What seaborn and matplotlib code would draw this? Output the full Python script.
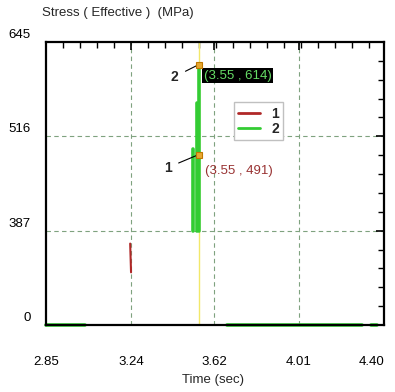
import numpy as np
import pandas as pd
import seaborn as sns
import matplotlib.pyplot as plt
from matplotlib.lines import Line2D
from matplotlib.ticker import FixedLocator, AutoMinorLocator
import matplotlib.transforms as mtransforms

# curve 1 (red) - only a short blip shows up near 3.24 s
t_curve1 = [3.236, 3.240]
s_curve1 = [334, 216]
seg_curve1 = [0, 0]

# curve 2 (green) - flat at zero with a burst of spikes around 3.52-3.55 s
t_curve2 = [2.85, 3.03, 3.522, 3.522, 3.543, 3.543, 3.550, 3.550, 3.68, 4.30, 4.34, 4.37]
s_curve2 = [0, 0, 387, 498, 387, 562, 387, 614, 0, 0, 0, 0]
seg_curve2 = [0, 0, 1, 1, 2, 2, 3, 3, 4, 4, 5, 5]

probe_t = 3.55
probe_vals = [491, 614]      # curve 1, curve 2
probe_names = ['1', '2']

x_ticks = [2.85, 3.24, 3.62, 4.01, 4.40]
y_ticks = [0, 387, 516, 645]

df = pd.concat([
    pd.DataFrame({'t': t_curve1, 's': s_curve1, 'seg': seg_curve1, 'curve': '1'}),
    pd.DataFrame({'t': t_curve2, 's': s_curve2, 'seg': seg_curve2, 'curve': '2'}),
], ignore_index=True)

sns.set_theme(style='white')
plt.rcParams['font.family'] = ['Liberation Sans', 'DejaVu Sans']

red, green = '#b02828', '#33cc33'

fig = plt.figure(figsize=(3.95, 3.92), dpi=100)
ax = fig.add_axes([46/395, 1-325/392, 338/395, 283/392])

# the y axis is piecewise: each labelled tick gets the same height
fwd = lambda v: np.interp(v, y_ticks, [0, 1, 2, 3])
inv = lambda p: np.interp(p, [0, 1, 2, 3], y_ticks)
ax.set_yscale('function', functions=(fwd, inv))

ax.axvline(probe_t, color='#f2e86a', lw=1, zorder=1)
sns.lineplot(data=df[df.curve == '2'], x='t', y='s', units='seg', estimator=None,
             sort=False, color=green, lw=2.6, ax=ax, zorder=2)
for ln in ax.lines[1:]:
    ln.set_clip_on(False)
sns.lineplot(data=df[df.curve == '1'], x='t', y='s', units='seg', estimator=None,
             sort=False, color=red, lw=1.5, ax=ax, zorder=3)

ax.set_xlim(x_ticks[0], x_ticks[-1])
ax.set_ylim(0, 645)

# grid, only inside
for xv in x_ticks[1:-1]:
    ax.axvline(xv, color='#7fa27f', lw=0.8, dashes=(4, 3), zorder=0)
for yv in y_ticks[1:-1]:
    ax.axhline(yv, color='#7fa27f', lw=0.8, dashes=(4, 3), zorder=0)

ax.xaxis.set_major_locator(FixedLocator(x_ticks))
ax.xaxis.set_minor_locator(AutoMinorLocator(5))
ax.set_xticklabels([f'{v:.2f}' for v in x_ticks])
ax.yaxis.set_major_locator(FixedLocator(y_ticks))
ax.yaxis.set_minor_locator(FixedLocator(inv(np.arange(0, 3.01, 0.2))))
ax.set_yticklabels([str(v) for v in y_ticks])
ax.tick_params(which='both', direction='in', top=True, right=True, colors='black',
               labelsize=9.5)
ax.tick_params(which='major', length=6, width=1.2)
ax.tick_params(which='minor', length=4, width=1)
ax.tick_params(axis='x', pad=22)
ax.tick_params(axis='y', pad=11)
ax.get_xticklabels()[-1].set_horizontalalignment('right')
shift = mtransforms.ScaledTranslation(0, 6/72, fig.dpi_scale_trans)
for lab in ax.get_yticklabels():
    lab.set_transform(lab.get_transform() + shift)
for sp in ax.spines.values():
    sp.set_color('black')
    sp.set_linewidth(1.6)
ax.set_xlabel('')
ax.set_ylabel('')

# probe markers with value labels
for val, name in zip(probe_vals, probe_names):
    ax.plot(probe_t, val, 's', ms=5, mfc='#e8a830', mec='#c07800', mew=0.8, zorder=5)
offs = {'1': (-31, -13), '2': (-24, -12)}
for val, name in zip(probe_vals, probe_names):
    ax.annotate(name, (probe_t, val), xytext=offs[name], textcoords='offset pixels',
                ha='center', va='center', fontsize=10, fontweight='bold',
                arrowprops=dict(arrowstyle='-', color='black', lw=0.8, shrinkA=3, shrinkB=2))
ax.annotate(f'({probe_t} , {probe_vals[1]})', (probe_t, probe_vals[1]), xytext=(5, -11),
            textcoords='offset pixels', ha='left', va='center', fontsize=9.5, color='#66dd66',
            bbox=dict(boxstyle='square,pad=0.1', fc='black', ec='none'))
ax.annotate(f'({probe_t} , {probe_vals[0]})', (probe_t, probe_vals[0]), xytext=(6, -16),
            textcoords='offset pixels', ha='left', va='center', fontsize=9.5, color='#993333')

handles = [Line2D([], [], color=red, lw=2), Line2D([], [], color=green, lw=2)]
leg = ax.legend(handles, probe_names, loc='center', bbox_to_anchor=(0.628, 0.72),
                handlelength=1.6, handletextpad=0.8, borderpad=0.3, labelspacing=0.1,
                fancybox=False, framealpha=1, edgecolor='#c0c0c0', prop={'weight': 'bold', 'size': 10})

fig.text(42/395, 1-13/392, 'Stress ( Effective )  (MPa)', ha='left', va='center', fontsize=9.5)
fig.text(213/395, 1-380/392, 'Time (sec)', ha='center', va='center', fontsize=9.5)

fig.savefig('out.png', dpi=100)
